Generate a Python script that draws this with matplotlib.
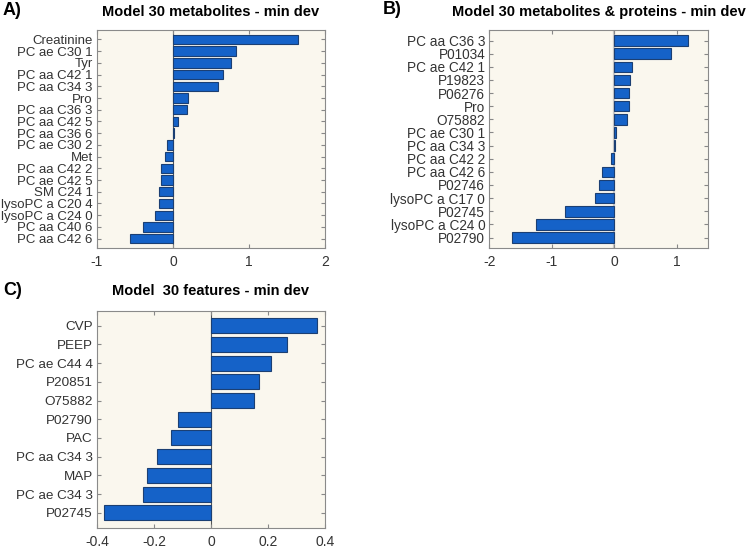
import matplotlib
matplotlib.use("Agg")
import matplotlib.pyplot as plt
import numpy as np

plt.rcParams['font.family'] = ['Liberation Sans', 'DejaVu Sans']

# panel A: metabolites
labels_a = ["Creatinine", "PC ae C30 1", "Tyr", "PC aa C42 1", "PC aa C34 3", "Pro",
            "PC aa C36 3", "PC aa C42 5", "PC aa C36 6", "PC ae C30 2", "Met",
            "PC aa C42 2", "PC ae C42 5", "SM C24 1", "lysoPC a C20 4",
            "lysoPC a C24 0", "PC aa C40 6", "PC aa C42 6"]
values_a = [1.64, 0.83, 0.76, 0.66, 0.59, 0.20, 0.18, 0.067, 0.013, -0.076, -0.11,
            -0.156, -0.164, -0.187, -0.19, -0.24, -0.39, -0.565]

# panel B: metabolites & proteins
labels_b = ["PC aa C36 3", "P01034", "PC ae C42 1", "P19823", "P06276", "Pro", "O75882",
            "PC ae C30 1", "PC aa C34 3", "PC aa C42 2", "PC aa C42 6", "P02746",
            "lysoPC a C17 0", "P02745", "lysoPC a C24 0", "P02790"]
values_b = [1.18, 0.91, 0.28, 0.256, 0.24, 0.235, 0.213, 0.027, 0.01, -0.043, -0.187,
            -0.25, -0.31, -0.78, -1.25, -1.63]

# panel C: all features
labels_c = ["CVP", "PEEP", "PC ae C44 4", "P20851", "O75882", "P02790", "PAC",
            "PC aa C34 3", "MAP", "PC ae C34 3", "P02745"]
values_c = [0.373, 0.267, 0.212, 0.169, 0.151, -0.116, -0.14, -0.189, -0.223, -0.237, -0.377]

BG = "#faf7ee"
BAR = "#1562c8"
EDGE = "#1b3f73"

fig = plt.figure(figsize=(7.5, 5.48), dpi=100)


def panel(rect, labels, values, title, xlim, xticks, fs, zcol, zlw, tpad):
    ax = fig.add_axes(rect)
    ax.set_facecolor(BG)
    y = np.arange(len(labels))[::-1]
    ax.axvline(0, color=zcol, lw=zlw, zorder=1)
    ax.barh(y, values, height=0.8, color=BAR, edgecolor=EDGE, linewidth=0.8, zorder=2)
    ax.set_yticks(y)
    ax.set_yticklabels(labels, fontsize=fs, color="#333333")
    ax.set_ylim(-0.8, len(labels) - 0.2)
    ax.set_xlim(*xlim)
    ax.set_xticks(xticks)
    ax.set_xticklabels([("%g" % t) for t in xticks], fontsize=10, color="#333333")
    ax.tick_params(direction="in", length=3, color="#888888", right=True, top=True, pad=5)
    ax.tick_params(axis="y", pad=3)
    for s in ax.spines.values():
        s.set_color("#8a8a8a")
        s.set_linewidth(0.8)
    ax.set_title(title, fontsize=10.5, fontweight="bold", pad=tpad)
    return ax


panel([0.1293, 0.5474, 0.304, 0.3978], labels_a, values_a,
      "Model 30 metabolites - min dev", (-1, 2), [-1, 0, 1, 2], 9.5, "#555555", 0.8, 10)
panel([0.6524, 0.5474, 0.2912, 0.3978], labels_b, values_b,
      "Model 30 metabolites & proteins - min dev", (-2, 1.5), [-2, -1, 0, 1], 9.8, "#c8c8c8", 1.6, 10)
panel([0.1293, 0.037, 0.304, 0.396], labels_c, values_c,
      "Model  30 features - min dev", (-0.4, 0.4), [-0.4, -0.2, 0, 0.2, 0.4], 9.7, "#555555", 0.8, 11)

fig.text(0.004, 0.98, "A)", fontsize=13, fontweight="bold", va="center")
fig.text(0.51, 0.983, "B)", fontsize=13, fontweight="bold", va="center")
fig.text(0.004, 0.469, "C)", fontsize=13, fontweight="bold", va="center")

fig.savefig("out.png", dpi=100)
